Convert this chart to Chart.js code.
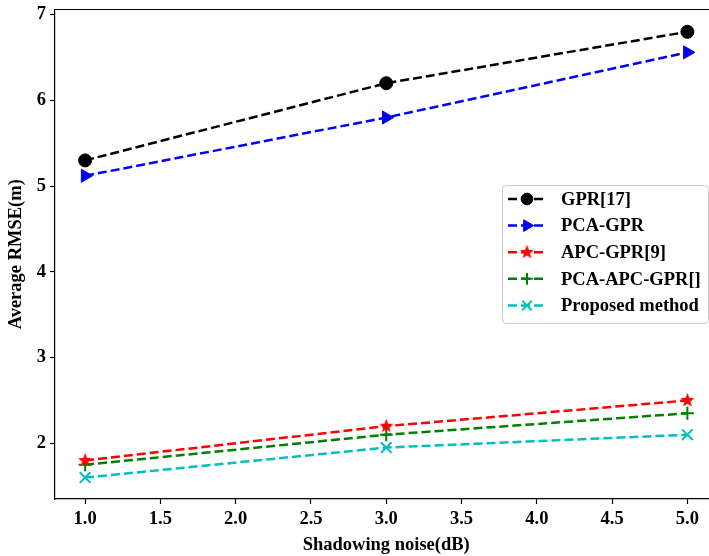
<!DOCTYPE html>
<html><head><meta charset="utf-8">
<script src="https://cdn.jsdelivr.net/npm/chart.js@4"></script>
<style>
html,body{margin:0;padding:0;overflow:hidden;background:#fff;width:709px;height:556px}
#wrap{position:absolute;left:0;top:0;width:727px;height:556px}
</style>
</head><body><div id="wrap"><canvas id="c" width="727" height="556"></canvas></div>
<script>
const xValues = [1.0, 3.0, 5.0];
const seriesNames = ['GPR[17]', 'PCA-GPR', 'APC-GPR[9]', 'PCA-APC-GPR[]', 'Proposed method'];
const gpr = [5.3, 6.2, 6.8];
const pcaGpr = [5.12, 5.8, 6.56];
const apcGpr = [1.8, 2.2, 2.5];
const pcaApcGpr = [1.75, 2.1, 2.35];
const proposed = [1.6, 1.95, 2.1];
const xTicks = [1.0, 1.5, 2.0, 2.5, 3.0, 3.5, 4.0, 4.5, 5.0];
const yTicks = [2, 3, 4, 5, 6, 7];
const xTitle = 'Shadowing noise(dB)';
const yTitle = 'Average RMSE(m)';

const FONT = {family: "'Liberation Serif','Times New Roman',serif", weight: 'bold', size: 18.5};

function makeStar(color, size) {
  const c = document.createElement('canvas');
  c.width = size; c.height = size;
  const g = c.getContext('2d');
  const cx = size / 2, cy = size / 2, R = size / 2, r = R * 0.42;
  g.beginPath();
  for (let i = 0; i < 10; i++) {
    const a = -Math.PI / 2 + i * Math.PI / 5;
    const rr = i % 2 === 0 ? R : r;
    const px = cx + rr * Math.cos(a), py = cy + rr * Math.sin(a);
    if (i === 0) g.moveTo(px, py); else g.lineTo(px, py);
  }
  g.closePath();
  g.fillStyle = color; g.fill();
  return c;
}
const starImg = makeStar('#ff0000', 15);

const styles = [
  {color: '#000000', pointStyle: 'circle', radius: 6.5, rotation: 0, bw: 1},
  {color: '#0000ff', pointStyle: 'triangle', radius: 7.5, rotation: 90, bw: 1},
  {color: '#ff0000', pointStyle: starImg, radius: 7, rotation: 0, bw: 0},
  {color: '#008000', pointStyle: 'cross', radius: 6.5, rotation: 0, bw: 2},
  {color: '#00bfbf', pointStyle: 'crossRot', radius: 7.5, rotation: 0, bw: 2}
];
const seriesData = [gpr, pcaGpr, apcGpr, pcaApcGpr, proposed];

const datasets = seriesData.map((vals, i) => ({
  label: seriesNames[i],
  data: vals.map((v, j) => ({x: xValues[j], y: v})),
  borderColor: styles[i].color,
  backgroundColor: styles[i].color,
  borderWidth: 2.5,
  borderDash: [9, 4],
  pointStyle: styles[i].pointStyle,
  pointRadius: styles[i].radius,
  pointRotation: styles[i].rotation,
  pointBackgroundColor: styles[i].color,
  pointBorderColor: styles[i].color,
  pointBorderWidth: styles[i].bw,
  tension: 0,
  fill: false
}));

const framePlugin = {
  id: 'frame',
  afterDraw(chart) {
    const ctx = chart.ctx;
    const a = chart.chartArea;
    ctx.save();
    ctx.strokeStyle = '#000';
    ctx.lineWidth = 1.2;
    ctx.beginPath();
    ctx.moveTo(a.left, a.top);
    ctx.lineTo(a.right, a.top);
    ctx.lineTo(a.right, a.bottom);
    ctx.stroke();

    // legend
    const bx = 502, by = 185, bw = 206, bh = 138;
    ctx.fillStyle = 'rgba(255,255,255,0.85)';
    ctx.strokeStyle = '#cccccc';
    ctx.lineWidth = 1;
    ctx.beginPath();
    if (ctx.roundRect) ctx.roundRect(bx + 0.5, by + 0.5, bw, bh, 4); else ctx.rect(bx + 0.5, by + 0.5, bw, bh);
    ctx.fill(); ctx.stroke();
    chart.data.datasets.forEach((ds, i) => {
      const y = 199 + i * 26.6;
      ctx.save();
      ctx.strokeStyle = ds.borderColor;
      ctx.lineWidth = 2.5;
      ctx.setLineDash([9, 4]);
      ctx.beginPath();
      ctx.moveTo(508, y); ctx.lineTo(546, y);
      ctx.stroke();
      ctx.restore();
      ctx.save();
      ctx.fillStyle = ds.pointBackgroundColor;
      ctx.strokeStyle = ds.pointBorderColor;
      ctx.lineWidth = ds.pointBorderWidth;
      Chart.helpers.drawPoint(ctx, {
        pointStyle: ds.pointStyle, radius: ds.pointRadius * 0.9,
        rotation: ds.pointRotation, borderWidth: ds.pointBorderWidth
      }, 527, y);
      ctx.restore();
      ctx.fillStyle = '#000';
      ctx.font = `bold ${FONT.size}px ${FONT.family}`;
      ctx.textBaseline = 'middle';
      ctx.textAlign = 'left';
      ctx.fillText(ds.label, 561, y + 1);
    });
    ctx.restore();
  }
};

new Chart(document.getElementById('c'), {
  type: 'line',
  data: {datasets},
  options: {
    responsive: false,
    devicePixelRatio: 1,
    animation: false,
    layout: {padding: {top: 6.5, right: 3.5, left: 0, bottom: 0}},
    plugins: {legend: {display: false}, tooltip: {enabled: false}},
    scales: {
      x: {
        type: 'linear', min: 0.8, max: 5.2,
        afterBuildTicks: s => { s.ticks = xTicks.map(v => ({value: v})); },
        afterFit: s => { s.height = 57; s.paddingLeft = 0; s.paddingRight = 0; },
        grid: {drawOnChartArea: false, drawTicks: true, tickLength: 5, color: '#000', tickWidth: 1.2},
        border: {display: true, color: '#000', width: 1.2},
        ticks: {color: '#000', font: FONT, padding: 4, maxRotation: 0, autoSkip: false,
          callback: v => Number(v).toFixed(1)},
        title: {display: true, text: xTitle, color: '#000', font: FONT, padding: {top: 2, bottom: 0}}
      },
      y: {
        type: 'linear', min: 1.35, max: 7.06,
        afterBuildTicks: s => { s.ticks = yTicks.map(v => ({value: v})); },
        afterFit: s => { s.width = 55; s.paddingTop = 0; s.paddingBottom = 0; },
        grid: {drawOnChartArea: false, drawTicks: true, tickLength: 5, color: '#000', tickWidth: 1.2},
        border: {display: true, color: '#000', width: 1.2},
        ticks: {color: '#000', font: FONT, padding: 4, autoSkip: false,
          callback: v => String(v)},
        title: {display: true, text: yTitle, color: '#000', font: FONT, padding: {top: 5, bottom: 0}}
      }
    }
  },
  plugins: [framePlugin]
});
</script>
</body></html>
